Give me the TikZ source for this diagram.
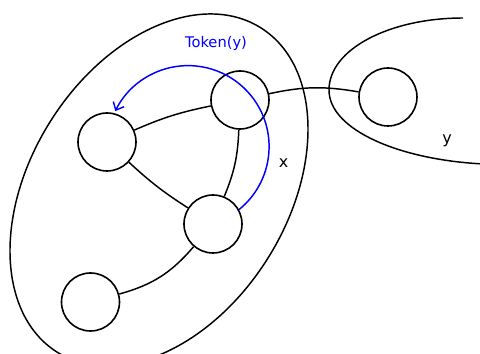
\documentclass[tikz,border=0pt]{standalone}
\usepackage{fontspec}
\setmainfont{DejaVu Sans}
\usetikzlibrary{arrows.meta}
\begin{document}
\begin{tikzpicture}[x=0.75pt,y=0.75pt,
  vertex/.style={circle,draw,line width=1.2pt,minimum size=43.5pt,inner sep=0pt},
  edge/.style={line width=1.1pt},
  group/.style={line width=1.1pt},
  token/.style={draw=blue,line width=1.1pt,-{Straight Barb[length=5pt,width=9pt,line width=1.1pt]}},
  lbl/.style={font=\fontsize{12}{14}\selectfont,anchor=base,inner sep=0pt}]
\useasboundingbox (0,0) rectangle (480,354);
% groups
\draw[group,rotate around={57.9:(159,164)}] (159,164) ellipse [x radius=191.5,y radius=128.5];
\draw[group] (463,336) .. controls (390,336) and (329,305) .. (329,264)
  .. controls (329,224) and (400,194) .. (484,190);
% vertices
\node[vertex] (top) at (240,254) {};
\node[vertex] (left) at (107,212) {};
\node[vertex] (mid) at (213,130) {};
\node[vertex] (bot) at (90.5,52) {};
\node[vertex] (right) at (388,257) {};
% edges
\draw[edge] (left) to[bend left=6] (top);
\draw[edge] (top) to[bend left=10] (mid);
\draw[edge] (left) to[bend right=5] (mid);
\draw[edge] (mid) to[bend left=17] (bot);
\draw[edge] (top) to[bend left=11] (right);
% token arrow
\draw[token] (mid.29) arc[start angle=-51,end angle=154,radius=81];
% labels
\node[lbl,text=blue,font=\fontsize{11}{13}\selectfont] (tok) at (216,306) {Token(y)};
\node[lbl] (lx) at (283.5,186) {x};
\node[lbl] (ly) at (447,210) {y};
\end{tikzpicture}
\end{document}
